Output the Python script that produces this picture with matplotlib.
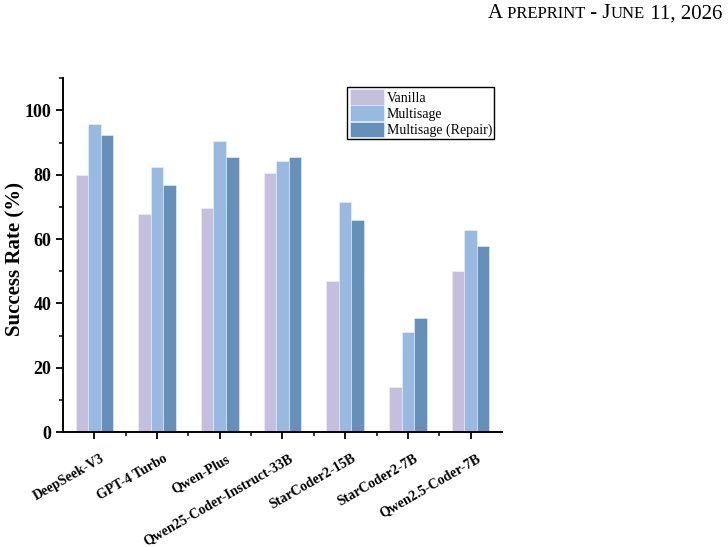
import numpy as np
import matplotlib.pyplot as plt
import matplotlib.transforms as mtransforms
from matplotlib.ticker import MultipleLocator

plt.rcParams['font.family'] = ['Liberation Serif', 'DejaVu Serif']

models = ['DeepSeek-V3', 'GPT-4 Turbo', 'Qwen-Plus', 'Qwen25-Coder-Instruct-33B',
          'StarCoder2-15B', 'StarCoder2-7B', 'Qwen2.5-Coder-7B']
vanilla = [80.0, 67.8, 69.7, 80.6, 47.1, 14.1, 50.2]
multisage = [95.9, 82.5, 90.4, 84.3, 71.4, 31.0, 62.9]
repair = [92.2, 76.9, 85.6, 85.6, 65.9, 35.4, 58.0]

series = [('Vanilla', vanilla, '#c5bfdd'),
          ('Multisage', multisage, '#98bae0'),
          ('Multisage (Repair)', repair, '#6490ba')]

fig = plt.figure(figsize=(7.28, 5.47), dpi=100)
ax = fig.add_axes([0.0865, 0.21, 0.603, 0.647])

x = np.arange(len(models))
w = 0.2
for i, (name, vals, col) in enumerate(series):
    ax.bar(x + (i - 1) * w, vals, w, color=col, label=name,
           edgecolor='#eef0f8', linewidth=0.4)

ax.set_xlim(-0.5, 6.5)
ax.set_ylim(0, 110)
ax.yaxis.set_major_locator(MultipleLocator(20))
ax.yaxis.set_minor_locator(MultipleLocator(10))
ax.set_xticks(x)
ax.set_xticks(x[:-1] + 0.5, minor=True)
ax.set_xticklabels([])
# category names sit a little right of and below each tick, as in the original
lab_tr = ax.get_xaxis_transform() + mtransforms.ScaledTranslation(
    6 / 100, -20 / 100, fig.dpi_scale_trans)
for xi, name in zip(x, models):
    ax.text(xi, 0, name, transform=lab_tr, rotation=30, ha='right', va='top',
            rotation_mode='anchor', fontsize=10, fontweight='bold')
for lab in ax.get_yticklabels():
    lab.set_fontweight('bold')
ax.tick_params(axis='y', labelsize=13, width=1.3, length=5)
ax.tick_params(axis='x', width=1.3, length=5)
ax.tick_params(which='minor', width=1.1, length=3)
for s in ['top', 'right']:
    ax.spines[s].set_visible(False)
for s in ['left', 'bottom']:
    ax.spines[s].set_linewidth(1.4)

ax.set_ylabel('Success Rate (%)', fontsize=15, fontweight='bold')
ax.yaxis.set_label_coords(-0.085, 0.49)

leg = ax.legend(loc='upper left', bbox_to_anchor=(0.648, 0.975), fontsize=10,
                frameon=True, fancybox=False, framealpha=1, edgecolor='black',
                handlelength=2.5, handleheight=1.35, handletextpad=0.2,
                labelspacing=0.05, borderpad=0.15, borderaxespad=0)
leg.get_frame().set_linewidth(1.0)

# running head in small caps, laid out right to left
big, small = 15, 12
pieces = [('A', big), (' PREPRINT', small), (' - J', big), ('UNE', small), (' 11, 2026', big)]
texts = [fig.text(0, 0, s, fontsize=fs, ha='left', va='baseline') for s, fs in pieces]
fig.canvas.draw()
r = fig.canvas.get_renderer()
xr = 722.0
ybase = 547 - 18.5
for t in reversed(texts):
    wd = t.get_window_extent(r).width
    xr -= wd
    t.set_position((xr / 728, ybase / 547))

fig.savefig('out.png', dpi=100)
